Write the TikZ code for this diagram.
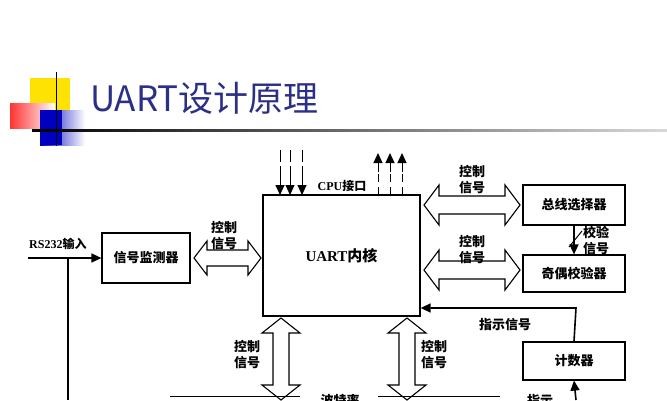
\documentclass[tikz,border=0pt]{standalone}
\usepackage{fontspec}
\setmainfont{Liberation Serif}
\newfontfamily\cjk{Noto Sans CJK SC}
\usetikzlibrary{arrows.meta}
\definecolor{ttl}{HTML}{2B2F86}
% horizontal double arrow: x1 x2 y shaft-half head-half head-len
\newcommand\myhdarr[6]{\draw[line width=1.1pt,fill=white,line join=miter]
  (#1,#3) -- (#1+#6,#3-#5) -- (#1+#6,#3-#4) -- (#2-#6,#3-#4) -- (#2-#6,#3-#5) -- (#2,#3)
  -- (#2-#6,#3+#5) -- (#2-#6,#3+#4) -- (#1+#6,#3+#4) -- (#1+#6,#3+#5) -- cycle;}
\newcommand\myvdarr[6]{\draw[line width=1.1pt,fill=white,line join=miter]
  (#3,#1) -- (#3-#5,#1+#6) -- (#3-#4,#1+#6) -- (#3-#4,#2-#6) -- (#3-#5,#2-#6) -- (#3,#2)
  -- (#3+#5,#2-#6) -- (#3+#4,#2-#6) -- (#3+#4,#1+#6) -- (#3+#5,#1+#6) -- cycle;}
\begin{document}
\begin{tikzpicture}[x=1pt,y=-1pt,
  blk/.style={draw,line width=1.2pt,minimum width=#1,minimum height=38pt,inner sep=0pt,font=\cjk\bfseries\fontsize{13}{13}\selectfont},
  blk/.default=100pt,
  lbl/.style={font=\cjk\bfseries\fontsize{13}{16}\selectfont,align=center,inner sep=0pt},
  sarr/.style={line width=1.6pt,-{Triangle[length=10pt,width=9pt]}}]
\useasboundingbox (0,0) rectangle (667,400);
\clip (0,0) rectangle (667,400);
% title decoration
\fill[yellow!85!orange] (30,78) rectangle (70,118);
\shade[left color=red!80,right color=white] (10,103) rectangle (55,128);
\shade[left color=blue!75!black,right color=white] (40,110) rectangle (85,145);
\fill[blue!75!black] (40,110) rectangle (62,145);
\draw[line width=1pt] (56,72) -- (56,146);
\shade[left color=black,right color=gray!30] (32,129.5) rectangle (667,131);
\node[anchor=base west,inner sep=0pt,text=ttl,font=\cjk\fontsize{35}{35}\selectfont] (title) at (90,111) {UART设计原理};
% core
\node[draw,line width=1.3pt,minimum width=157pt,minimum height=121pt,inner sep=0pt,font=\bfseries\fontsize{15}{15}\selectfont] (core) at (341.5,255.5) {UART{\cjk 内核}};
\node[blk=88pt,minimum height=50pt] (mon) at (146,258) {信号监测器};
\node[blk=102pt,minimum height=40pt] (bus) at (574,205) {总线选择器};
\node[blk=102pt,minimum height=37pt] (par) at (574,273.5) {奇偶校验器};
\node[blk=102pt,minimum height=38pt] (cnt) at (574,361) {计数器};
% RS232
\coordinate (rsin) at (28,258);
\draw[sarr] (rsin) -- (mon.west);
\node[anchor=south west,inner sep=1pt,font=\bfseries\fontsize{12}{12}\selectfont] (rs) at (28,251) {RS232{\cjk 输入}};
\coordinate (rsd) at (68,258); \coordinate (rsb) at (68,400);
\draw[line width=1.6pt] (rsd) -- (rsb);
% double arrows
\myhdarr{194}{261}{258}{8}{17}{13}
\node[lbl] (l1) at (224,236) {控制\\信号};
\myhdarr{424}{520}{205}{9}{20}{15}
\node[lbl] (l2) at (472,180) {控制\\信号};
\myhdarr{424}{520}{270}{9}{20}{15}
\node[lbl] (l3) at (472,250) {控制\\信号};
\myvdarr{318}{400}{281}{8}{19}{15}
\node[lbl] (l4) at (247,355) {控制\\信号};
\myvdarr{318}{400}{407}{8}{19}{15}
\node[lbl] (l5) at (434,355) {控制\\信号};
% check signal
\draw[sarr] (bus.south) -- (par.north);
\draw[line width=1pt] (569,247) -- (582,231);
\node[lbl,anchor=west] (l6) at (583,240) {校验\\信号};
% counter indication
\coordinate (c1) at (576,308);
\draw[sarr] (cnt.north) -- (c1) -- (core.east |- c1);
\node[lbl] (l7) at (505,325) {指示信号};
\coordinate (cb) at (576,400);
\draw[sarr] (cb) -- (cnt.south);
\node[lbl] (l8) at (540,401) {指示};
% CPU interface
\foreach \x/\n in {280/d1,290/d2,302/d3}{
  \coordinate (\n) at (\x,150);
  \draw[line width=1pt,dash pattern=on 12pt off 4pt] (\n) -- (\x,183);
  \draw[sarr,line width=1pt] (\x,178) -- (\x,195);}
\foreach \x/\n in {378/u1,390/u2,402/u3}{
  \coordinate (\n) at (\x,195);
  \draw[line width=1pt,dash pattern=on 8pt off 5pt] (\n) -- (\x,165);
  \draw[sarr,line width=1pt] (\x,172) -- (\x,153);}
\node[font=\bfseries\fontsize{12}{12}\selectfont,inner sep=0pt] (cpu) at (342,186) {CPU{\cjk 接口}};
% bottom
\draw[line width=1pt] (170,396) -- (300,396);
\draw[line width=1pt] (378,396) -- (500,396);
\node[lbl] (l9) at (340,401) {波特率};
\end{tikzpicture}
\end{document}
